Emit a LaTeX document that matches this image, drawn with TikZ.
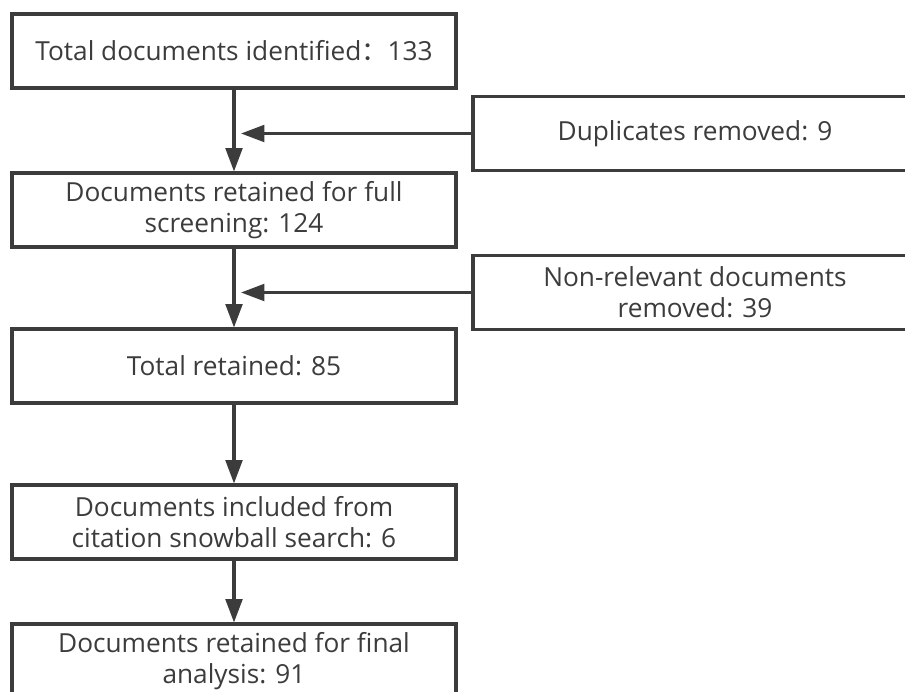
\documentclass[tikz,border=0pt]{standalone}
\usepackage{fontspec}
\setmainfont{Open Sans}
\newfontfamily\cjk{Noto Sans CJK SC}
\usetikzlibrary{arrows.meta}
\definecolor{inkgray}{HTML}{3C3C3C}

\begin{document}
\begin{tikzpicture}[x=0.03cm, y=-0.03cm,
        box/.style={draw=inkgray, line width=2.6pt, minimum width=13.32cm, minimum height=2.22cm,
                inner sep=0pt, align=center, text=inkgray, font=\fontsize{22.4}{26.5}\selectfont},
        flow/.style={draw=inkgray, line width=2.6pt, -{Triangle[length=0.7cm, width=0.5cm]}}]
        \path[use as bounding box, clip] (0,0) rectangle (905,691);
        \fill[white] (0,0) rectangle (905,691);

        % main column
        \node (T) [box] at (234,51) {Total documents identified{\cjk ：}133};
        \node (S) [box] at (234,210) {Documents retained for full\\screening: 124};
        \node (R) [box] at (234,366) {Total retained: 85};
        \node (C) [box] at (234,522) {Documents included from\\citation snowball search: 6};
        \node (F) [box] at (234,661) {Documents retained for final\\analysis: 91};

        % removed records
        \node (D) [box] at (695,133.5) {Duplicates removed: 9};
        \node (N) [box] at (695,292.5) {Non-relevant documents\\removed: 39};

        \draw[flow] (T) -- (S);
        \draw[flow] (S) -- (R);
        \draw[flow] (R) -- (C);
        \draw[flow] (C) -- (F);

        \coordinate (d) at (241,133.5);
        \coordinate (n) at (241,292.5);
        \draw[flow] (D) -- (d);
        \draw[flow] (N) -- (n);
    \end{tikzpicture}
\end{document}
